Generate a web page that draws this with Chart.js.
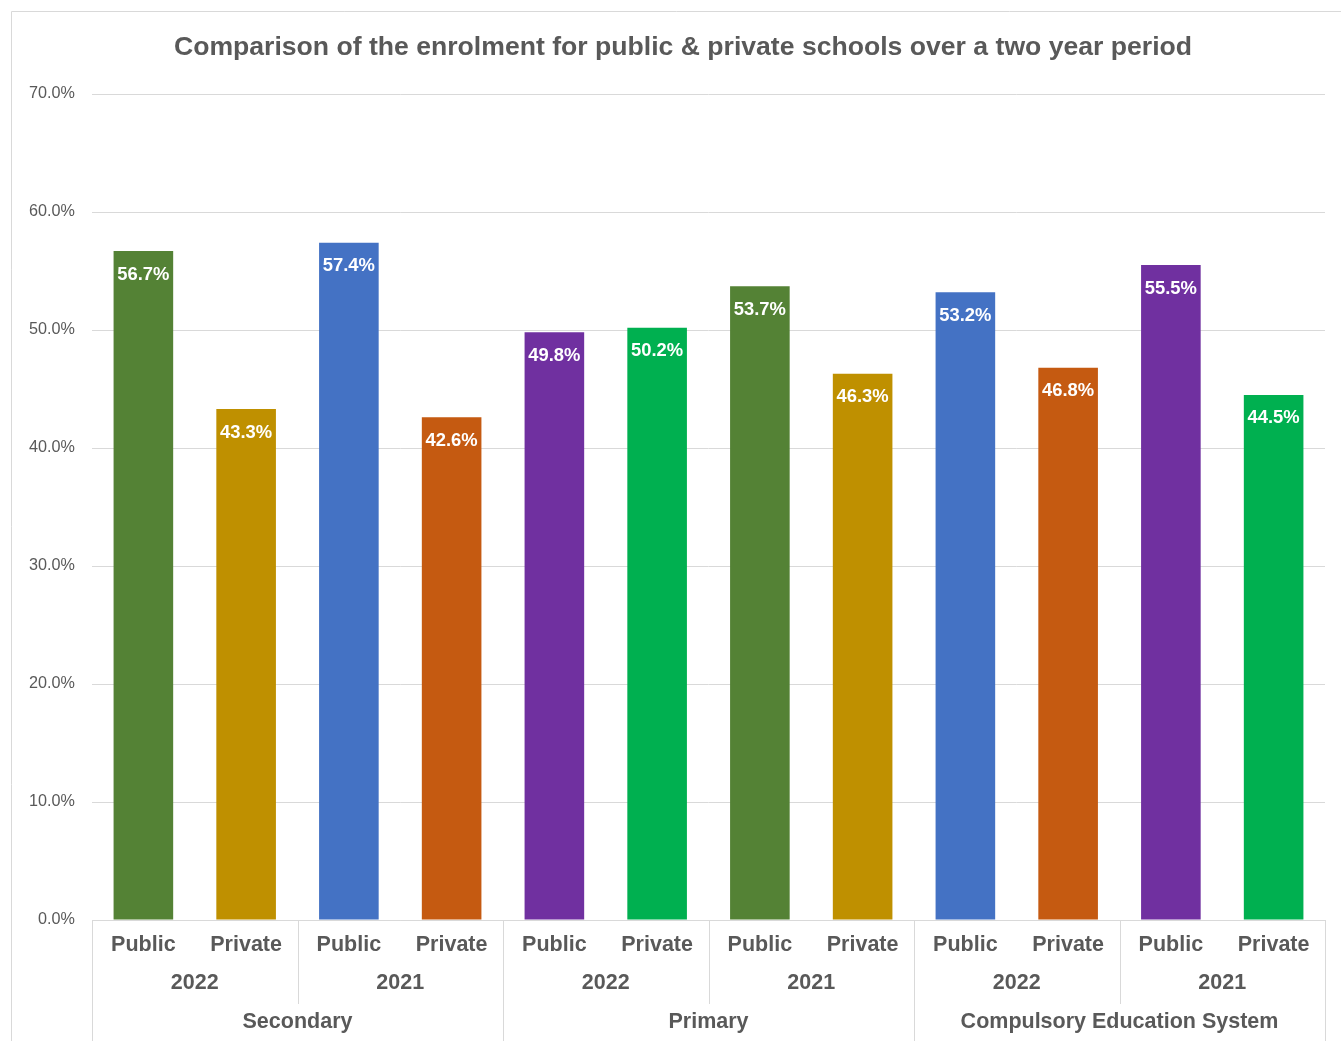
<!DOCTYPE html>
<html>
<head>
<meta charset="utf-8">
<script src="https://cdn.jsdelivr.net/npm/chart.js@4.4.0/dist/chart.umd.min.js"></script>
<style>
  html, body { margin: 0; padding: 0; background: #fff; }
  #wrap { width: 1341px; height: 1041px; position: relative; }
</style>
</head>
<body>
<div id="wrap"><canvas id="grafica"></canvas></div>
<script>
const categories = ['Public', 'Private', 'Public', 'Private', 'Public', 'Private',
                    'Public', 'Private', 'Public', 'Private', 'Public', 'Private'];
const years = ['2022', '2021', '2022', '2021', '2022', '2021'];
const groups = ['Secondary', 'Primary', 'Compulsory Education System'];
const values = [56.7, 43.3, 57.4, 42.6, 49.8, 50.2, 53.7, 46.3, 53.2, 46.8, 55.5, 44.5];
const barColors = ['#548235', '#BF9000', '#4472C4', '#C55A11', '#7030A0', '#00B050',
                   '#548235', '#BF9000', '#4472C4', '#C55A11', '#7030A0', '#00B050'];
const yTicks = [0, 10, 20, 30, 40, 50, 60, 70];

const titleText = 'Comparison of the enrolment for public & private schools over a two year period';
const FONT = 'Arial, "Liberation Sans", sans-serif';
const GREY = '#595959';
const LINE = '#d9d9d9';

// marco, titulo, etiquetas de varios niveles y valores sobre las barras
const extras = {
  id: 'extras',
  beforeDraw(chart) {
    const c = chart.ctx;
    c.save();
    c.strokeStyle = LINE;
    c.lineWidth = 1;
    c.beginPath();
    c.moveTo(11.5, chart.height + 5);
    c.lineTo(11.5, 11.5);
    c.lineTo(chart.width + 5, 11.5);
    c.stroke();
    c.fillStyle = GREY;
    c.font = 'bold 26.6px ' + FONT;
    c.textAlign = 'center';
    c.textBaseline = 'middle';
    c.fillText(titleText, 683, 48);
    c.restore();
  },
  afterDraw(chart) {
    const c = chart.ctx;
    const x = chart.scales.x;
    const area = chart.chartArea;
    const edge = i => {
      if (i <= 0) return area.left;
      if (i >= categories.length) return area.right;
      return (x.getPixelForValue(i - 1) + x.getPixelForValue(i)) / 2;
    };
    const axisY = area.bottom;
    c.save();
    c.strokeStyle = LINE;
    c.lineWidth = 1;
    // separadores de año y de grupo
    for (let i = 0; i <= categories.length; i += 2) {
      const px = Math.round(edge(i)) + 0.5;
      const bottom = (i % 4 === 0) ? chart.height : axisY + 84;
      c.beginPath();
      c.moveTo(px, axisY);
      c.lineTo(px, bottom);
      c.stroke();
    }
    c.fillStyle = GREY;
    c.font = 'bold 21.5px ' + FONT;
    c.textAlign = 'center';
    c.textBaseline = 'middle';
    years.forEach((y, i) => {
      c.fillText(y, (edge(i * 2) + edge(i * 2 + 2)) / 2, axisY + 63);
    });
    groups.forEach((g, i) => {
      c.fillText(g, (edge(i * 4) + edge(i * 4 + 4)) / 2, axisY + 102);
    });
    // etiquetas de datos
    const meta = chart.getDatasetMeta(0);
    c.fillStyle = '#ffffff';
    c.font = 'bold 18.4px ' + FONT;
    meta.data.forEach((bar, i) => {
      c.fillText(values[i].toFixed(1) + '%', bar.x, bar.y + 23.5);
    });
    c.restore();
  }
};

new Chart(document.getElementById('grafica'), {
  type: 'bar',
  data: {
    labels: categories,
    datasets: [{
      data: values,
      backgroundColor: barColors,
      borderWidth: 0,
      categoryPercentage: 1,
      barPercentage: 0.58
    }]
  },
  options: {
    responsive: true,
    maintainAspectRatio: false,
    animation: false,
    layout: { padding: { left: 12, right: 16, top: 94, bottom: 0 } },
    scales: {
      x: {
        grid: { display: false, drawTicks: false },
        border: { display: true, color: LINE },
        ticks: { color: GREY, font: { family: FONT, size: 21.5, weight: 'bold' }, padding: 12, maxRotation: 0, autoSkip: false },
        afterFit: s => { s.height = 121; }
      },
      y: {
        min: 0,
        max: 70,
        afterBuildTicks: s => { s.ticks = yTicks.map(v => ({ value: v })); },
        grid: { color: LINE, drawTicks: false },
        border: { display: false },
        ticks: {
          color: GREY,
          font: { family: FONT, size: 16.2 },
          padding: 17,
          callback: v => v.toFixed(1) + '%'
        },
        afterFit: s => { s.width = 80; }
      }
    },
    plugins: {
      legend: { display: false },
      title: { display: false },
      tooltip: { enabled: false }
    }
  },
  plugins: [extras]
});
</script>
</body>
</html>
